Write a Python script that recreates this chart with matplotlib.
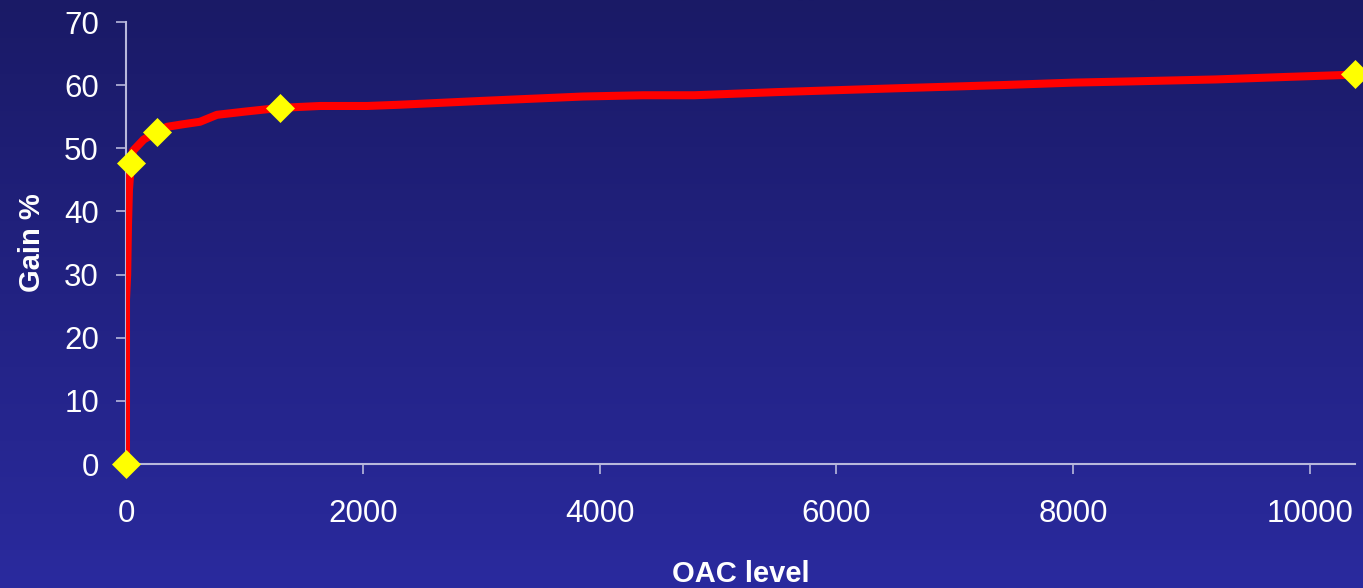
import numpy as np
import matplotlib.pyplot as plt

plt.rcParams['font.family'] = ['Liberation Sans', 'DejaVu Sans']

# OAC level vs gain curve
oac_level = [0, 0, 10, 17, 25, 42, 59, 150, 262, 346, 480, 625, 768, 1000, 1300,
             1639, 2035, 2314, 3000, 3860, 4367, 4800, 5500, 6500, 7382, 8000,
             8505, 9200, 9800, 10279, 10380]
gain = [0, 26, 30, 38, 43.4, 47.7, 49.6, 51.4, 52.6, 53.4, 53.8, 54.2, 55.3, 55.8, 56.4,
        56.7, 56.7, 56.9, 57.5, 58.2, 58.4, 58.4, 58.9, 59.5, 60.0, 60.4,
        60.6, 60.9, 61.3, 61.6, 61.8]
# measured points shown with markers
marker_idx = [0, 5, 8, 14, 30]

x_ticks = [0, 2000, 4000, 6000, 8000, 10000]
y_ticks = [0, 10, 20, 30, 40, 50, 60, 70]

fig = plt.figure(figsize=(13.63, 5.88), dpi=100)

# vertical blue gradient background
bg = fig.add_axes([0, 0, 1, 1], zorder=0)
top = np.array([26, 26, 102]) / 255
bottom = np.array([42, 42, 158]) / 255
t = np.linspace(0, 1, 256)[:, None]
grad = top + (bottom - top) * t
bg.imshow(grad[:, None, :], aspect='auto', extent=[0, 1, 0, 1])
bg.axis('off')

ax = fig.add_axes([126 / 1363, 124 / 588, 1229 / 1363, 442 / 588], zorder=1)
ax.patch.set_alpha(0)

ax.plot(oac_level, gain, color='#ff0000', lw=5.8, solid_joinstyle='round',
        solid_capstyle='round', zorder=3)
ax.plot([oac_level[i] for i in marker_idx], [gain[i] for i in marker_idx],
        ls='none', marker='D', ms=14.5, mfc='#ffff00', mec='#ffff00', mew=0.5,
        zorder=4, clip_on=False)

ax.set_xlim(0, 10380)
ax.set_ylim(0, 70)
ax.set_xticks(x_ticks)
ax.set_yticks(y_ticks)

spine_col = '#b8b8dc'
for side in ['top', 'right']:
    ax.spines[side].set_visible(False)
for side in ['left', 'bottom']:
    ax.spines[side].set_color(spine_col)
    ax.spines[side].set_linewidth(1.5)

ax.tick_params(axis='both', direction='out', length=7.5, width=1.2, color=spine_col,
               labelcolor='white', labelsize=22.5)
ax.tick_params(axis='x', pad=18)
ax.tick_params(axis='y', pad=12)

ax.set_xlabel('OAC level', color='white', fontsize=21, fontweight='bold', labelpad=22)
ax.set_ylabel('Gain %', color='white', fontsize=21, fontweight='bold', labelpad=13)

fig.savefig('out.png', dpi=100)
